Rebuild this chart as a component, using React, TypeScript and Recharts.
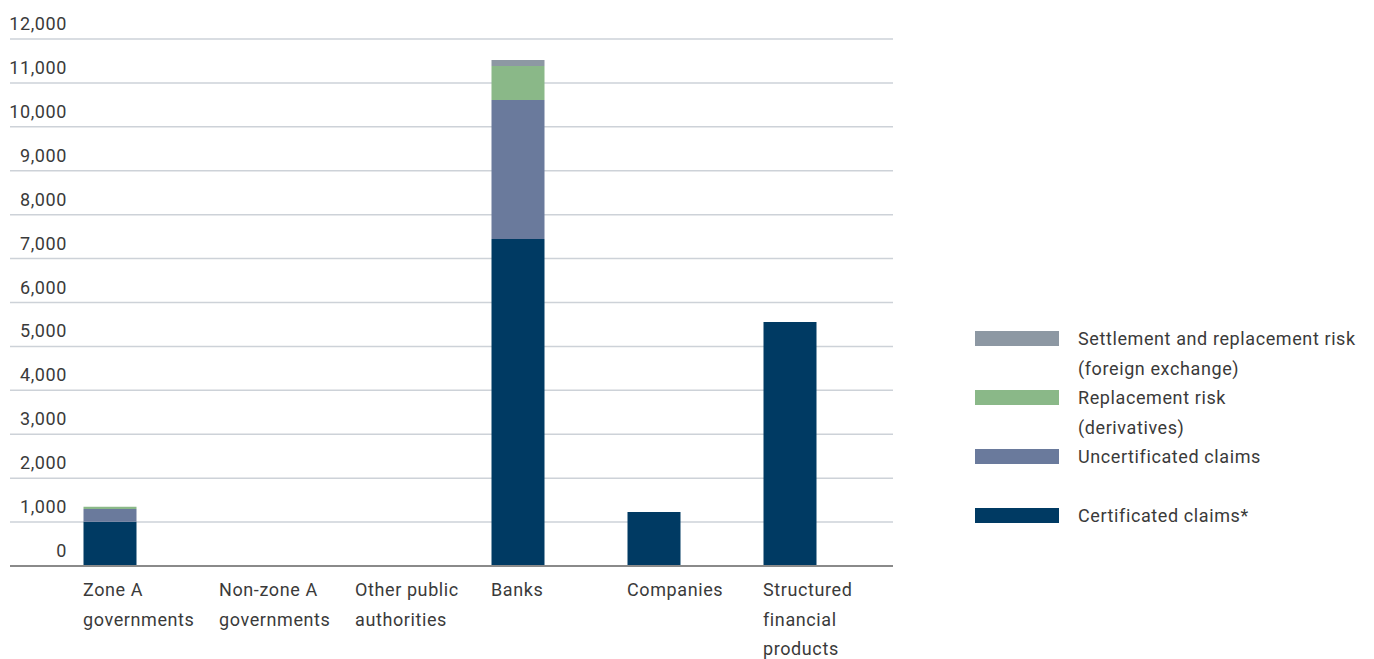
import React from 'react';
import { BarChart, Bar, XAxis, YAxis, CartesianGrid } from 'recharts';

const categories = [
  'Zone A\ngovernments',
  'Non-zone A\ngovernments',
  'Other public\nauthorities',
  'Banks',
  'Companies',
  'Structured\nfinancial\nproducts',
];
const certificated = [1010, 0, 0, 7445, 1230, 5555];
const uncertificated = [290, 0, 0, 3165, 0, 0];
const replacement = [50, 0, 0, 775, 0, 0];
const settlement = [0, 0, 0, 135, 0, 0];
const yTicks = [0, 1000, 2000, 3000, 4000, 5000, 6000, 7000, 8000, 9000, 10000, 11000, 12000];

const series = [
  { key: 'certificated', name: 'Certificated claims*', color: '#003a63' },
  { key: 'uncertificated', name: 'Uncertificated claims', color: '#6a7a9c' },
  { key: 'replacement', name: 'Replacement risk\n(derivatives)', color: '#8ab888' },
  { key: 'settlement', name: 'Settlement and replacement risk\n(foreign exchange)', color: '#8d98a3' },
];

const data = categories.map((name, i) => ({
  name,
  certificated: certificated[i],
  uncertificated: uncertificated[i],
  replacement: replacement[i],
  settlement: settlement[i],
}));

const FONT = 'Roboto, "Liberation Sans", sans-serif';
const TEXT = '#3a3a3a';
const SPACING = '0.6px';

const YTick = (props: any) => {
  const { y, payload } = props;
  return (
    <text x={67} y={y - 9} textAnchor="end" fontSize={18} fontFamily={FONT} fill={TEXT} style={{ letterSpacing: SPACING }}>
      {Number(payload.value).toLocaleString('en-US')}
    </text>
  );
};

const XTick = (props: any) => {
  const { x, y, payload } = props;
  const lines = String(payload.value).split('\n');
  return (
    <text x={x - 26.5} y={y + 22} textAnchor="start" fontSize={18} fontFamily={FONT} fill={TEXT} style={{ letterSpacing: SPACING }}>
      {lines.map((l, i) => (
        <tspan key={i} x={x - 26.5} dy={i === 0 ? 0 : 29.5}>{l}</tspan>
      ))}
    </text>
  );
};

const App: React.FC = () => {
  const legendItems = [...series].reverse();
  return (
    <div style={{ position: 'relative', width: 1374, height: 659 }}>
      <style>{'body{margin:0;background:#fff;}'}</style>
      <BarChart
        width={1374}
        height={659}
        data={data}
        margin={{ top: 39, right: 481, left: 0, bottom: 0 }}
        barSize={53}
      >
        <CartesianGrid vertical={false} stroke="#cdd2d8" strokeWidth={1.5} />
        <XAxis
          dataKey="name"
          height={93}
          padding={{ left: 31.5, right: 35.5 }}
          axisLine={{ stroke: '#8a8a8a', strokeWidth: 2 }}
          tickLine={false}
          tick={<XTick />}
          interval={0}
        />
        <YAxis
          width={10}
          domain={[0, 12000]}
          ticks={yTicks}
          axisLine={false}
          tickLine={false}
          tick={<YTick />}
          interval={0}
        />
        {series.map(s => (
          <Bar key={s.key} dataKey={s.key} stackId="a" fill={s.color} name={s.name} isAnimationActive={false} />
        ))}
      </BarChart>
      <div style={{ position: 'absolute', left: 975, top: 324, fontFamily: FONT, fontSize: 18, color: TEXT, letterSpacing: SPACING }}>
        {legendItems.map(s => (
          <div key={s.key} style={{ position: 'relative', height: 59 }}>
            <div style={{ position: 'absolute', left: 0, top: 7, width: 84, height: 15, background: s.color }} />
            <div style={{ position: 'absolute', left: 103, top: 0, lineHeight: '29.5px', whiteSpace: 'pre' }}>
              {s.name}
            </div>
          </div>
        ))}
      </div>
    </div>
  );
};

export default App;
